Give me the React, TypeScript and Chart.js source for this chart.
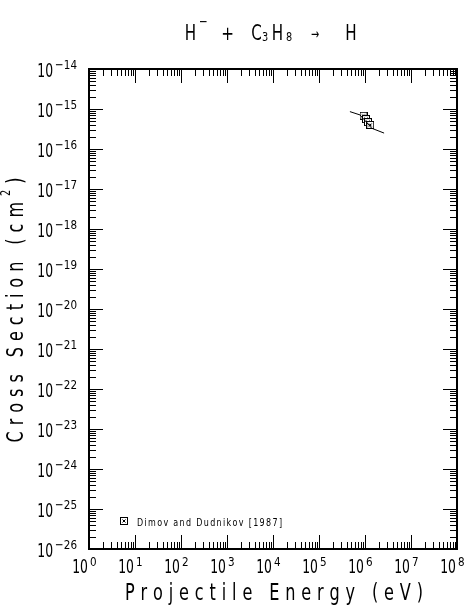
import { useEffect, useRef } from "react";
import { Chart, registerables } from "chart.js";

Chart.register(...registerables);

const CANVAS_W = 470;
const CANVAS_H = 606;

// axis ranges
const energyMin = 1;
const energyMax = 1e8;
const sigmaMin = 1e-26;
const sigmaMax = 1e-14;

// decade exponents used for labelled ticks
const energyDecades = [0, 1, 2, 3, 4, 5, 6, 7, 8];
const sigmaDecades = [-14, -15, -16, -17, -18, -19, -20, -21, -22, -23, -24, -25, -26];

// measured points
const dataLabel = "Dimov and Dudnikov [1987]";
const dataEnergy = [9.3e5, 1.05e6, 1.16e6, 1.3e6];
const dataSigma = [6.8e-16, 5.6e-16, 4.7e-16, 4.0e-16];

// recommended fit curve
const fitEnergy = [4.7e5, 7.8e5, 1.4e6, 2.6e6];
const fitSigma = [8.6e-16, 7.1e-16, 3.3e-16, 2.5e-16];

// text
const xTitle = "Projectile Energy (eV)";
const yTitleMain = "Cross Section (cm";
const yTitleSup = "2";
const yTitleEnd = ")";

type Part = { text: string; size: number; sx: number; dx: number; y: number; mid?: boolean };
const titleParts: Part[] = [
  { text: "H", size: 21, sx: 0.72, dx: -80.5, y: 40 },
  { text: "\u2212", size: 14, sx: 0.75, dx: -67.5, y: 22, mid: true },
  { text: "+", size: 19, sx: 0.8, dx: -43.5, y: 35, mid: true },
  { text: "C", size: 21, sx: 0.72, dx: -14.5, y: 40 },
  { text: "3", size: 13, sx: 0.75, dx: -6, y: 41 },
  { text: "H", size: 21, sx: 0.72, dx: 6.5, y: 40 },
  { text: "8", size: 13, sx: 0.75, dx: 18, y: 41 },
  { text: "\u2192", size: 15, sx: 0.65, dx: 44, y: 35, mid: true },
  { text: "H", size: 21, sx: 0.72, dx: 80, y: 40 },
];

const FONT = '"DejaVu Sans", sans-serif';

function makeMarker(): HTMLCanvasElement {
  const c = document.createElement("canvas");
  c.width = 8;
  c.height = 8;
  const g = c.getContext("2d")!;
  g.fillStyle = "#fff";
  g.fillRect(0, 0, 8, 8);
  g.strokeStyle = "#000";
  g.lineWidth = 1;
  g.strokeRect(0.5, 0.5, 7, 7);
  g.beginPath();
  g.moveTo(2.5, 2.5);
  g.lineTo(5.5, 5.5);
  g.moveTo(5.5, 2.5);
  g.lineTo(2.5, 5.5);
  g.stroke();
  return c;
}

type Ch = { c: string; sup?: boolean };

function spread(
  ctx: CanvasRenderingContext2D,
  chars: Ch[],
  x: number,
  y: number,
  size: number,
  sx: number,
  width: number,
  align: "left" | "center"
) {
  const supSize = Math.round(size * 0.6);
  const ws = chars.map((ch) => {
    ctx.font = `${ch.sup ? supSize : size}px ${FONT}`;
    return ctx.measureText(ch.c).width * sx;
  });
  const sum = ws.reduce((a, b) => a + b, 0);
  const gap = chars.length > 1 ? (width - sum) / (chars.length - 1) : 0;
  let cur = align === "center" ? x - width / 2 : x;
  ctx.textAlign = "left";
  ctx.textBaseline = "alphabetic";
  chars.forEach((ch, i) => {
    ctx.font = `${ch.sup ? supSize : size}px ${FONT}`;
    ctx.save();
    ctx.translate(cur, ch.sup ? y - size * 0.55 : y);
    ctx.scale(sx, 1);
    ctx.fillText(ch.c, 0, 0);
    ctx.restore();
    cur += ws[i] + gap;
  });
}

function drawScaled(
  ctx: CanvasRenderingContext2D,
  text: string,
  x: number,
  y: number,
  size: number,
  sx: number,
  align: "left" | "right" | "center",
  baseline: CanvasTextBaseline = "alphabetic"
): number {
  ctx.font = `${size}px ${FONT}`;
  const w = ctx.measureText(text).width * sx;
  let left = x;
  if (align === "right") left = x - w;
  else if (align === "center") left = x - w / 2;
  ctx.save();
  ctx.textAlign = "left";
  ctx.textBaseline = baseline;
  ctx.translate(left, y);
  ctx.scale(sx, 1);
  ctx.fillText(text, 0, 0);
  ctx.restore();
  return w;
}

const supDigits = (n: number) => (n < 0 ? "\u2212" + String(-n) : String(n));

export default function App() {
  const ref = useRef<HTMLCanvasElement>(null);

  useEffect(() => {
    if (!ref.current) return;
    const marker = makeMarker();

    const framePlugin = {
      id: "frame",
      afterDraw(chart: any) {
        const ctx: CanvasRenderingContext2D = chart.ctx;
        const a = chart.chartArea;
        const xs = chart.scales.x;
        const ys = chart.scales.y;
        ctx.save();
        ctx.fillStyle = "#000";
        ctx.strokeStyle = "#000";

        // frame
        ctx.lineWidth = 2;
        ctx.strokeRect(a.left, a.top, a.right - a.left, a.bottom - a.top);

        // ticks
        ctx.lineWidth = 1;
        ctx.beginPath();
        const major = 14;
        const minor = 7;
        for (let d = energyDecades[0]; d <= energyDecades[energyDecades.length - 1]; d++) {
          for (let k = 1; k <= 9; k++) {
            const v = k * Math.pow(10, d);
            if (v < energyMin || v > energyMax) continue;
            const px = Math.round(xs.getPixelForValue(v)) + 0.5;
            const len = k === 1 ? major : minor;
            ctx.moveTo(px, a.bottom);
            ctx.lineTo(px, a.bottom - len);
            ctx.moveTo(px, a.top);
            ctx.lineTo(px, a.top + len);
          }
        }
        for (let d = sigmaDecades[sigmaDecades.length - 1]; d <= sigmaDecades[0]; d++) {
          for (let k = 1; k <= 9; k++) {
            const v = k * Math.pow(10, d);
            if (v < sigmaMin * 0.999 || v > sigmaMax * 1.001) continue;
            const py = Math.round(ys.getPixelForValue(v)) + 0.5;
            const len = k === 1 ? major : minor;
            ctx.moveTo(a.left, py);
            ctx.lineTo(a.left + len, py);
            ctx.moveTo(a.right, py);
            ctx.lineTo(a.right - len, py);
          }
        }
        ctx.stroke();

        // x tick labels
        energyDecades.forEach((d) => {
          const px = xs.getPixelForValue(Math.pow(10, d));
          drawScaled(ctx, "10", px - 1, a.bottom + 24, 20, 0.62, "right");
          drawScaled(ctx, supDigits(d), px + 1, a.bottom + 17, 13, 0.8, "left");
        });

        // y tick labels
        sigmaDecades.forEach((d) => {
          const py = ys.getPixelForValue(Math.pow(10, d));
          const ew = drawScaled(ctx, supDigits(d), a.left - 12, py, 13, 0.8, "right");
          drawScaled(ctx, "10", a.left - 12 - ew - 2, py + 8, 20, 0.62, "right");
        });

        // x axis title
        spread(
          ctx,
          Array.from(xTitle).map((c) => ({ c })),
          (a.left + a.right) / 2 + 1,
          600,
          23,
          0.7,
          298,
          "center"
        );

        // y axis title
        ctx.save();
        ctx.translate(23, (a.top + a.bottom) / 2 + 1);
        ctx.rotate(-Math.PI / 2);
        const yChars: Ch[] = [
          ...Array.from(yTitleMain).map((c) => ({ c })),
          { c: yTitleSup, sup: true },
          ...Array.from(yTitleEnd).map((c) => ({ c })),
        ];
        spread(ctx, yChars, 0, 0, 23, 0.7, 265, "center");
        ctx.restore();

        // title
        const cx = (a.left + a.right) / 2 - 2;
        titleParts.forEach((p) => {
          drawScaled(ctx, p.text, cx + p.dx, p.y, p.size, p.sx, "center", p.mid ? "middle" : "alphabetic");
        });

        // legend
        const lx = a.left + 35;
        const ly = a.bottom - 28;
        ctx.drawImage(marker, Math.round(lx - 4), Math.round(ly - 4));
        const label = chart.data.datasets[1].label as string;
        spread(
          ctx,
          Array.from(label).map((c) => ({ c })),
          lx + 13,
          ly + 5,
          10,
          0.8,
          145,
          "left"
        );

        ctx.restore();
      },
    };

    const chart = new Chart(ref.current, {
      type: "scatter",
      data: {
        datasets: [
          {
            label: "fit",
            data: fitEnergy.map((x, i) => ({ x, y: fitSigma[i] })),
            showLine: true,
            borderColor: "#000",
            borderWidth: 1,
            pointRadius: 0,
            fill: false,
            tension: 0,
          },
          {
            label: dataLabel,
            data: dataEnergy.map((x, i) => ({ x, y: dataSigma[i] })),
            pointStyle: marker as any,
            pointRadius: 4,
            borderColor: "#000",
            backgroundColor: "#fff",
          },
        ],
      },
      options: {
        responsive: false,
        maintainAspectRatio: false,
        animation: false,
        devicePixelRatio: 1,
        layout: { padding: { left: 89, top: 69, right: 13, bottom: 57 } },
        plugins: {
          legend: { display: false },
          title: { display: false },
          tooltip: { enabled: false },
        },
        scales: {
          x: { type: "logarithmic", min: energyMin, max: energyMax, display: false },
          y: { type: "logarithmic", min: sigmaMin, max: sigmaMax, display: false },
        },
      },
      plugins: [framePlugin],
    });
    return () => chart.destroy();
  }, []);

  return (
    <div style={{ position: "absolute", left: 0, top: 0, width: CANVAS_W, height: CANVAS_H, background: "#fff" }}>
      <canvas ref={ref} width={CANVAS_W} height={CANVAS_H} style={{ display: "block", width: CANVAS_W, height: CANVAS_H }} />
    </div>
  );
}
